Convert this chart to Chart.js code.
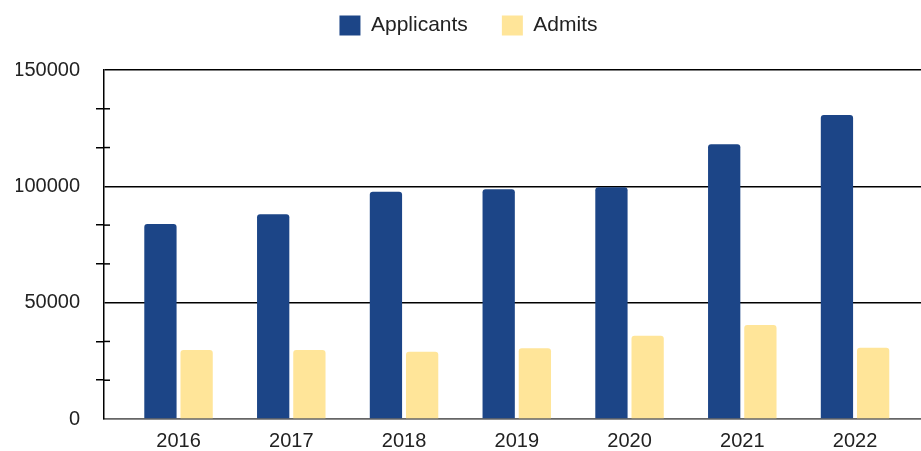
<!DOCTYPE html>
<html>
<head>
<meta charset="utf-8">
<script src="https://cdn.jsdelivr.net/npm/chart.js@4/dist/chart.umd.min.js"></script>
<style>
  html, body { margin: 0; padding: 0; background: #fff; }
  #wrap { width: 921px; height: 451px; }
</style>
</head>
<body>
<div id="wrap"><canvas id="c" width="921" height="451"></canvas></div>
<script>
const years = [2016, 2017, 2018, 2019, 2020, 2021, 2022];
const applicants = [83800, 88000, 97700, 98700, 99600, 118100, 130700];
const admits = [29700, 29700, 28900, 30400, 35800, 40400, 30600];
const seriesNames = ['Applicants', 'Admits'];
const seriesColors = ['#1c4587', '#ffe599'];

const isMajor = v => Math.abs(v / 50000 - Math.round(v / 50000)) < 1e-6;

Chart.defaults.font.family = '"Liberation Sans", Arial, sans-serif';
Chart.defaults.color = '#222';

const minorTicks = {
  id: 'minorTicks',
  afterDraw(chart) {
    const y = chart.scales.y;
    const ctx = chart.ctx;
    const left = chart.chartArea.left;
    ctx.save();
    ctx.strokeStyle = '#000';
    ctx.lineWidth = 1.5;
    y.ticks.forEach(t => {
      if (isMajor(t.value)) return;
      const py = y.getPixelForValue(t.value);
      ctx.beginPath();
      ctx.moveTo(left, py);
      ctx.lineTo(left + 6, py);
      ctx.stroke();
    });
    ctx.restore();
  }
};

new Chart(document.getElementById('c'), {
  type: 'bar',
  data: {
    datasets: [
      {
        label: seriesNames[0],
        data: years.map((yr, i) => ({ x: yr, y: applicants[i] })),
        backgroundColor: seriesColors[0],
        borderWidth: 0,
        borderRadius: 3,
        categoryPercentage: 0.642,
        barPercentage: 0.892
      },
      {
        label: seriesNames[1],
        data: years.map((yr, i) => ({ x: yr, y: admits[i] })),
        backgroundColor: seriesColors[1],
        borderWidth: 0,
        borderRadius: 3,
        categoryPercentage: 0.642,
        barPercentage: 0.892
      }
    ]
  },
  options: {
    responsive: false,
    animation: false,
    devicePixelRatio: 1,
    layout: { padding: { left: 16, right: 0, top: -19, bottom: 0 } },
    plugins: {
      legend: {
        position: 'top',
        labels: {
          boxWidth: 21,
          boxHeight: 20,
          padding: 34,
          color: '#222',
          font: { size: 21 }
        }
      },
      title: {
        display: true,
        text: '',
        weight: 500,
        padding: 0,
        font: { size: 20, lineHeight: 1.2 }
      },
      tooltip: { enabled: false }
    },
    scales: {
      x: {
        type: 'linear',
        offset: false,
        min: 2015.339,
        max: 2022.585,
        grid: { display: false, drawTicks: false },
        border: { display: true, color: '#666', width: 1.5 },
        ticks: {
          stepSize: 1,
          includeBounds: false,
          autoSkip: false,
          maxRotation: 0,
          padding: 11,
          color: '#222',
          font: { size: 20, lineHeight: 1.1 },
          callback: v => String(v)
        },
        afterFit: s => { s.height = 32; }
      },
      y: {
        min: 0,
        max: 150000,
        grid: {
          color: c => (c.tick && c.tick.value === 0) ? '#666' : (c.tick && isMajor(c.tick.value) ? '#000' : 'rgba(0,0,0,0)'),
          lineWidth: 1.5,
          drawTicks: true,
          tickLength: 8,
          tickColor: c => (c.tick && isMajor(c.tick.value)) ? 'rgba(0,0,0,0)' : '#000',
          tickWidth: 1.5
        },
        border: { display: true, color: '#000', width: 1.5 },
        ticks: {
          stepSize: 50000 / 3,
          autoSkip: false,
          padding: 16,
          color: '#222',
          font: { size: 20 },
          callback: v => isMajor(v) ? String(Math.round(v)) : ''
        },
        afterFit: s => { s.width = 88; }
      }
    }
  },
  plugins: [minorTicks]
});
</script>
</body>
</html>
